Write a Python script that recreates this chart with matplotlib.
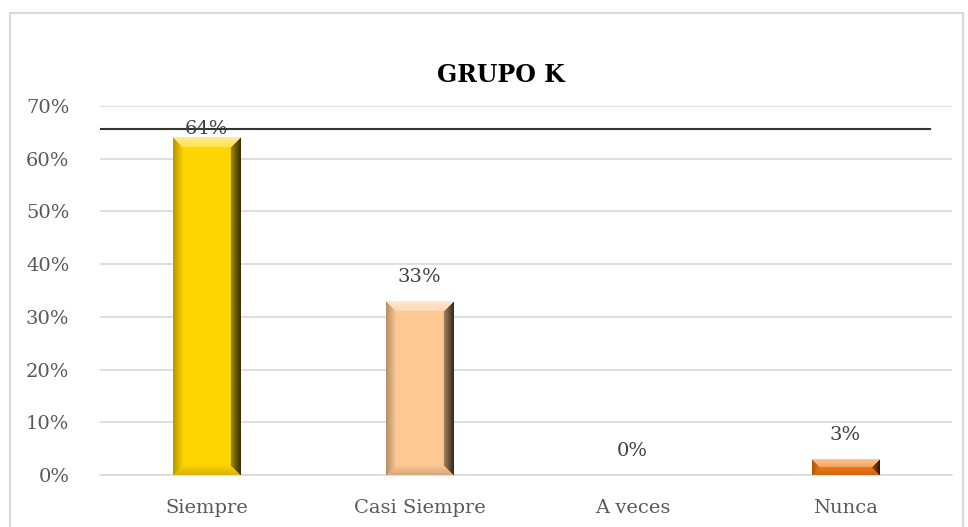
import numpy as np
import matplotlib
matplotlib.use("Agg")
import matplotlib.pyplot as plt
from matplotlib.patches import Rectangle
from matplotlib.colors import to_rgb

categorias = ["Siempre", "Casi Siempre", "A veces", "Nunca"]
valores = [0.64, 0.33, 0.00, 0.03]
etiquetas = ["64%", "33%", "0%", "3%"]
colores = ["#FFD500", "#FFC893", "#F5A623", "#F27A12"]

plt.rcParams['font.family'] = ['DejaVu Serif']

fig = plt.figure(figsize=(9.68, 5.27), dpi=100)
ax = fig.add_axes([0.1033, 0.0987, 0.880, 0.700])

x = np.arange(len(categorias))
barras = ax.bar(x, valores, width=0.315, color=colores, zorder=2)

ax.set_xlim(-0.5, len(categorias) - 0.5)
ax.set_ylim(0, 0.7)
ax.set_yticks(np.arange(0, 0.71, 0.1))
ax.set_yticklabels([f"{int(round(t*100))}%" for t in np.arange(0, 0.71, 0.1)])
ax.set_xticks(x)
ax.set_xticklabels(categorias)
ax.tick_params(length=0, labelsize=14, colors='#595959')
ax.tick_params(axis='x', pad=17)
ax.tick_params(axis='y', pad=22)
ax.grid(axis='y', color='#d9d9d9', lw=1.2, zorder=0)
for lado in ['top', 'right', 'left']:
    ax.spines[lado].set_visible(False)
ax.spines['bottom'].set_color('#d9d9d9')
ax.spines['bottom'].set_linewidth(1.2)

# efecto bisel sobre cada barra
fig.canvas.draw()
for b, c in zip(barras, colores):
    if b.get_height() <= 0:
        continue
    bb = b.get_window_extent()
    w, h = int(round(bb.width)), int(round(bb.height))
    if w < 2 or h < 2:
        continue
    bev = min(10, h // 2, w // 2)
    yy, xx = np.mgrid[0:h, 0:w]
    d_izq, d_der = xx, w - 1 - xx
    d_sup, d_inf = yy, h - 1 - yy
    base = np.array(to_rgb(c))
    dmin = np.minimum.reduce([d_izq, d_der, d_sup, d_inf])
    cara = np.argmin(np.stack([d_sup, d_izq, d_der, d_inf]), axis=0)
    en_bisel = dmin < bev
    t = np.clip(dmin / max(bev, 1), 0, 1)
    img = np.tile(base, (h, w, 1))
    # cara superior: mas clara
    m = en_bisel & (cara == 0)
    claro = base + (1 - base) * (0.55 - 0.25 * t)[..., None]
    img[m] = claro[m]
    # cara izquierda: degradado oscuro
    m = en_bisel & (cara == 1)
    img[m] = (base * (0.72 + 0.28 * t)[..., None])[m]
    # cara derecha: oscura
    m = en_bisel & (cara == 2)
    img[m] = (base * (0.22 + 0.45 * t)[..., None])[m]
    # cara inferior
    m = en_bisel & (cara == 3)
    img[m] = (base * (0.85 + 0.15 * t)[..., None])[m]
    img = np.clip(img, 0, 1)
    x0, y0 = b.get_x(), b.get_y()
    ax.imshow(img, extent=(x0, x0 + b.get_width(), y0, y0 + b.get_height()),
              aspect='auto', zorder=3, interpolation='bilinear')

ax.set_xlim(-0.5, len(categorias) - 0.5)
ax.set_ylim(0, 0.7)

for xi, v, t in zip(x, valores, etiquetas):
    ax.text(xi, min(v + 0.045, 0.657), t, ha='center', va='center',
            fontsize=14, color='#404040', zorder=5)

ax.axhline(0.656, xmin=0, xmax=0.974, color='#333333', lw=1.5, zorder=4)

fig.text(0.517, 0.858, "GRUPO K", ha='center', va='center', fontsize=17,
         fontweight='bold', color='black')

fig.patches.append(Rectangle((0.0103, -0.02), 0.9845, 0.9953, transform=fig.transFigure,
                             fill=False, edgecolor='#d9d9d9', lw=1.5))

fig.savefig("out.png", dpi=100)
